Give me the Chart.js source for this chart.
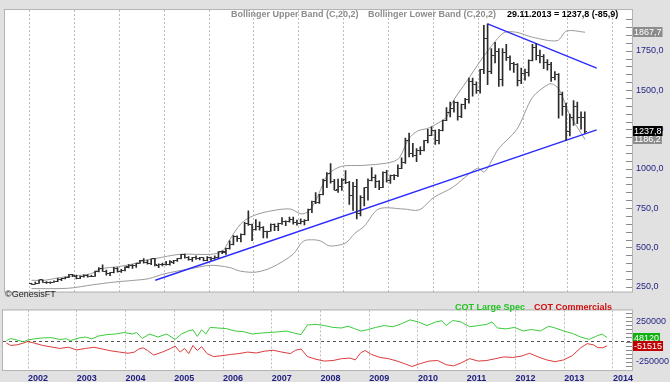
<!DOCTYPE html>
<html>
<head>
<meta charset="utf-8">
<script src="https://cdn.jsdelivr.net/npm/chart.js@4.4.0/dist/chart.umd.min.js"></script>
<style>
  html, body { margin: 0; padding: 0; background: #e1e1e1; }
  #wrap { position: relative; width: 670px; height: 382px; overflow: hidden; background: #e1e1e1; }
  #price { position: absolute; left: 0; top: 0; }
  #cot { position: absolute; left: 0; top: 301px; }
</style>
</head>
<body>
<div id="wrap">
  <canvas id="price" width="670" height="301"></canvas>
  <canvas id="cot" width="670" height="81"></canvas>
</div>
<script>
// Gold, monthly bars from Jul 2001 to Nov 2013
const firstYear = 2001, firstMonth = 7;
const opens = [
  270.5, 266, 273, 293, 279, 275.5,
  279, 282, 297, 302, 308, 326, 318, 305, 313, 323, 317, 318,
  347, 368, 348, 335, 339, 364, 346, 355, 375, 388, 384, 398,
  416, 401, 396, 427, 388, 393, 394, 391, 407, 416, 428, 452,
  438, 422, 435, 428, 435, 417, 435, 429, 433, 473, 470, 495,
  517, 569, 556, 582, 654, 643, 614, 632, 624, 599, 604, 647,
  632, 650, 665, 662, 677, 657, 650, 665, 672, 743, 789, 783,
  834, 923, 972, 916, 865, 885, 929, 913, 833, 884, 718, 815,
  882, 927, 942, 916, 883, 979, 927, 955, 955, 1001, 1040, 1182,
  1095, 1081, 1118, 1113, 1179, 1213, 1244, 1181, 1246, 1307, 1358, 1385,
  1421, 1333, 1411, 1439, 1556, 1536, 1500, 1628, 1825, 1620, 1722, 1746,
  1565, 1738, 1710, 1669, 1664, 1558, 1604, 1614, 1687, 1773, 1719, 1712,
  1675, 1662, 1578, 1596, 1472, 1393, 1234, 1323, 1396, 1327, 1323.7
];
const highs = [
  272, 278.8, 293.5, 293.5, 283, 281,
  287, 302.6, 304, 311, 328, 329, 324, 317, 326, 326.5, 322, 349,
  371, 388.5, 355, 341, 373, 371, 360, 377, 390, 390, 399, 417.5,
  429, 420, 428, 430, 395, 400, 411, 416, 417, 430, 456, 457,
  441, 437, 447, 437, 436, 442, 438, 447, 474, 478, 496, 541,
  575, 573, 586, 660, 732, 648, 677, 663, 633, 604, 650, 649,
  654, 690, 669, 693, 693, 674, 682, 677, 744, 795, 848, 838,
  935, 976, 1033, 932, 935, 937, 989, 920, 913, 933, 830, 881,
  936, 1007, 962, 925, 980, 990, 960, 963, 1025, 1070, 1195, 1226,
  1162, 1128, 1140, 1180, 1250, 1266, 1245, 1250, 1310, 1388, 1424, 1431,
  1424, 1411, 1447, 1576, 1577, 1553, 1632, 1912, 1921, 1764, 1803, 1764,
  1764, 1791, 1718, 1677, 1668, 1640, 1633, 1692, 1790, 1796, 1754, 1726,
  1694, 1677, 1617, 1605, 1487, 1417, 1348, 1434, 1424, 1361, 1361
];
const lows = [
  264.7, 265.5, 271, 277, 271.5, 271,
  277, 282, 289, 300, 308, 314, 300, 301, 310, 311, 314, 316,
  344, 347, 323, 320.5, 337, 342, 341, 350, 370, 367, 373, 398,
  399, 393, 390, 383, 371, 382, 387, 387, 397, 411, 426, 432,
  418, 411, 424, 420, 414, 414, 417, 427, 432, 460, 456, 488,
  515, 538, 535, 580, 640, 543, 610, 610, 560, 561, 603, 606,
  606, 646, 638, 661, 648, 641, 649, 643, 670, 721, 778, 780,
  834, 880, 909, 864, 850, 862, 905, 773, 735, 681, 700, 763,
  800, 923, 880, 867, 880, 915, 906, 930, 950, 1000, 1033, 1075,
  1075, 1045, 1090, 1113, 1164, 1210, 1155, 1157, 1240, 1306, 1330, 1360,
  1309, 1325, 1381, 1417, 1462, 1478, 1480, 1605, 1535, 1604, 1672, 1523,
  1527, 1688, 1627, 1613, 1527, 1540, 1563, 1589, 1685, 1692, 1672, 1636,
  1627, 1555, 1565, 1321, 1339, 1180, 1208, 1275, 1286, 1251, 1226
];
const closes = [
  265.9, 273, 293.1, 279, 275.5, 278.8,
  282.3, 296.9, 302, 308.4, 326.6, 318.5, 304.6, 312.8, 324, 316.9, 317.7, 347.2,
  367.9, 347.8, 334.9, 339.4, 364.4, 346, 354.8, 375.6, 388, 384, 398.4, 416.1,
  400.8, 395.8, 427.5, 388.5, 393.3, 394, 391.2, 407.2, 415.9, 428.2, 452.5, 438,
  422.2, 435.5, 428.2, 435.5, 417.6, 435.5, 429.1, 433, 473.3, 470.8, 495.7, 516.9,
  568.8, 556, 582, 654.5, 643, 613.5, 632.6, 623.5, 599.2, 603.8, 646.7, 632,
  650.5, 665.3, 661.8, 677, 657, 650.5, 665.5, 672, 743, 789.5, 783.5, 833.8,
  923.3, 971.5, 916.2, 864.6, 885, 928.3, 913, 833, 884.5, 718, 815.5, 882.1,
  927.3, 942, 916.5, 883.3, 978.8, 926.6, 954.9, 955.5, 1001.5, 1040, 1182, 1095.2,
  1081.5, 1118.5, 1113.5, 1179.3, 1213, 1244, 1181, 1246, 1307, 1358, 1385, 1421,
  1333, 1411, 1439, 1556, 1536, 1500, 1628, 1825, 1620, 1722, 1746, 1565,
  1738, 1710, 1669, 1664, 1558, 1604, 1614, 1687, 1773, 1719, 1712, 1675,
  1662, 1578, 1596, 1472, 1393, 1234, 1323, 1396, 1327, 1323.7, 1237.8
];

// Bollinger bands (C,20,2): [year, value]
const upperBand = [
  [2001.54, 291], [2001.84, 291], [2002.10, 305], [2002.45, 318], [2002.86, 332],
  [2003.07, 363], [2003.48, 378], [2003.80, 395], [2004.03, 415], [2004.30, 429],
  [2004.85, 456], [2005.53, 456], [2005.80, 476], [2005.94, 540], [2006.21, 651],
  [2006.49, 702], [2006.90, 733], [2007.31, 744], [2007.55, 713], [2007.72, 730],
  [2007.88, 800], [2008.02, 890], [2008.15, 965], [2008.45, 1015], [2008.90, 1021],
  [2009.30, 1030], [2009.60, 1045], [2009.75, 1073], [2009.95, 1190], [2010.15, 1240],
  [2010.39, 1258], [2010.60, 1290], [2010.80, 1330], [2010.92, 1420], [2011.27, 1567],
  [2011.54, 1682], [2011.89, 1814], [2012.09, 1867], [2012.36, 1867], [2012.71, 1836],
  [2013.26, 1814], [2013.47, 1876], [2013.88, 1867.7]
];
const lowerBand = [
  [2001.54, 238], [2002.35, 240], [2002.90, 262], [2003.40, 280], [2003.80, 290],
  [2004.15, 301], [2004.50, 332], [2005.06, 363], [2005.53, 386], [2005.94, 373],
  [2006.20, 349], [2006.55, 343], [2006.90, 373], [2007.37, 456], [2007.60, 540],
  [2007.85, 548], [2007.99, 540], [2008.19, 509], [2008.54, 528], [2008.75, 590],
  [2008.95, 632], [2009.28, 744], [2009.84, 744], [2010.18, 738], [2010.51, 818],
  [2010.92, 880], [2011.48, 1003], [2011.64, 980], [2011.95, 1126], [2012.36, 1250],
  [2012.71, 1454], [2013.06, 1536], [2013.18, 1536], [2013.32, 1495], [2013.53, 1349],
  [2013.88, 1186.2]
];

// Trend lines: [year, value]
const supportLine = [[2004.30, 291], [2014.14, 1247]];
const resistLine = [[2011.71, 1921], [2014.14, 1639]];

// COT net positions
const cotLargeDates = [
  2001.557, 2001.645, 2001.776, 2001.907, 2001.995, 2002.126, 2002.301, 2002.477, 2002.652, 2002.783,
  2002.871, 2003.046, 2003.177, 2003.309, 2003.440, 2003.615, 2003.790, 2003.966, 2004.141, 2004.229,
  2004.342, 2004.491, 2004.666, 2004.842, 2005.017, 2005.148, 2005.280, 2005.385, 2005.472, 2005.560,
  2005.647, 2005.735, 2005.893, 2006.068, 2006.243, 2006.418, 2006.594, 2006.769, 2006.944, 2007.119,
  2007.294, 2007.469, 2007.601, 2007.732, 2007.907, 2008.082, 2008.258, 2008.433, 2008.564, 2008.696,
  2008.827, 2008.958, 2009.134, 2009.309, 2009.484, 2009.659, 2009.834, 2010.009, 2010.185, 2010.360,
  2010.491, 2010.579, 2010.710, 2010.885, 2011.061, 2011.236, 2011.411, 2011.516, 2011.630, 2011.805,
  2011.981, 2012.156, 2012.331, 2012.507, 2012.682, 2012.812, 2012.988, 2013.163, 2013.338, 2013.513,
  2013.645, 2013.776, 2013.88
];
const cotLarge = [
  11000, 36800, 18400, -3700, 18400, 33100, 44100, 47800, 25700, 33100,
  11000, 44100, 55100, 33100, 66200, 84500, 91900, 110300, 91900, 110300,
  36800, 91900, 55100, 91900, 25700, 91900, 128700, 143400, 62500, 143400,
  91900, 172800, 165400, 158100, 128700, 121300, 91900, 102900, 110300, 117600,
  128700, 102900, 84500, 202200, 209500, 194800, 172800, 165400, 187500, 158100,
  128700, 143400, 172800, 194800, 180100, 216900, 264700, 238900, 194800, 238900,
  253600, 194800, 257300, 238900, 180100, 194800, 209500, 238900, 165400, 154400,
  172800, 128700, 147000, 128700, 187500, 165400, 128700, 99300, 55100, 25700,
  62500, 91900, 48120
];
const cotCommDates = [
  2001.557, 2001.645, 2001.776, 2001.907, 2001.995, 2002.126, 2002.301, 2002.477, 2002.652, 2002.827,
  2003.002, 2003.177, 2003.352, 2003.528, 2003.703, 2003.878, 2004.053, 2004.185, 2004.272, 2004.360,
  2004.447, 2004.579, 2004.754, 2004.929, 2005.017, 2005.122, 2005.209, 2005.297, 2005.385, 2005.472,
  2005.560, 2005.674, 2005.805, 2005.980, 2006.155, 2006.330, 2006.506, 2006.681, 2006.856, 2007.031,
  2007.207, 2007.382, 2007.487, 2007.601, 2007.732, 2007.907, 2008.082, 2008.258, 2008.433, 2008.608,
  2008.713, 2008.827, 2008.915, 2009.046, 2009.221, 2009.396, 2009.572, 2009.747, 2009.878, 2010.053,
  2010.228, 2010.404, 2010.579, 2010.728, 2010.885, 2011.061, 2011.236, 2011.411, 2011.586, 2011.761,
  2011.937, 2012.112, 2012.288, 2012.463, 2012.638, 2012.812, 2012.988, 2013.163, 2013.338, 2013.470,
  2013.601, 2013.688, 2013.793, 2013.88
];
const cotComm = [
  -18400, -47800, -40400, -18400, 0, -18400, -47800, -66200, -84500, -69800,
  -102900, -84500, -69800, -91900, -114000, -128700, -143400, -128700, -91900, -77200,
  -106600, -165400, -128700, -84500, -55100, -128700, -84500, -147000, -47800, -110300,
  -62500, -147000, -183800, -172800, -158100, -147000, -128700, -139700, -117600, -106600,
  -128700, -147000, -106600, -91900, -183800, -216900, -238900, -231600, -209500, -202200,
  -224200, -136000, -110300, -158100, -194800, -209500, -238900, -275700, -305100, -268300,
  -238900, -231600, -283000, -297800, -261000, -209500, -238900, -231600, -209500, -187500,
  -194800, -180100, -143400, -187500, -224200, -246300, -224200, -172800, -77200, -25700,
  -40400, -73500, -77200, -51515
];

const priceTicks = [250, 500, 750, 1000, 1250, 1500, 1750];
const cotTicks = [-250000, 250000];
const years = [2002, 2003, 2004, 2005, 2006, 2007, 2008, 2009, 2010, 2011, 2012, 2013, 2014];

const X_MIN = 2001.487, X_MAX = 2014.39;
const AXIS_W = 38;
const font = 'Liberation Sans, Arial, sans-serif';
const axisBlue = '#1e1e82';

const monthX = i => firstYear + (firstMonth - 1 + i + 0.5) / 12;
const pts = arr => arr.map(p => ({ x: p[0], y: p[1] }));

// little tick images for open (left) and close (right)
function tickImage(side) {
  const c = document.createElement('canvas');
  c.width = 5; c.height = 1;
  const g = c.getContext('2d');
  g.fillStyle = '#333';
  g.fillRect(side === 'left' ? 0 : 3, 0, 2, 1);
  return c;
}

// white plot area, inward tick marks, value boxes and header texts
const panelPlugin = {
  id: 'panel',
  beforeDraw(chart, args, opts) {
    const { ctx, chartArea: a } = chart;
    ctx.save();
    ctx.fillStyle = '#fff';
    ctx.fillRect(a.left, a.top, a.right - a.left, a.bottom - a.top);
    ctx.restore();
  },
  afterDraw(chart, args, opts) {
    const { ctx, chartArea: a } = chart;
    const y = chart.scales.y;
    ctx.save();
    ctx.strokeStyle = '#b4b4b4';
    ctx.lineWidth = 1;
    ctx.strokeRect(a.left - 0.5, a.top - 0.5, a.right - a.left + 1, a.bottom - a.top + 1);
    // tick marks pointing into the plot
    ctx.strokeStyle = '#8a8a8a';
    (opts.minorTicks || []).forEach(v => {
      const py = Math.round(y.getPixelForValue(v)) + 0.5;
      if (py < a.top || py > a.bottom) return;
      ctx.beginPath();
      ctx.moveTo(a.right - 6, py);
      ctx.lineTo(a.right, py);
      ctx.stroke();
    });
    // value boxes on the axis
    ctx.font = '9px ' + font;
    ctx.textBaseline = 'middle';
    (opts.boxes || []).forEach(b => {
      const py = Math.round(y.getPixelForValue(b.value));
      const w = ctx.measureText(b.text).width + 2;
      ctx.fillStyle = b.bg;
      ctx.fillRect(a.right + 1, py - 5, w, 10);
      ctx.fillStyle = b.fg;
      ctx.fillText(b.text, a.right + 2, py + 0.5);
    });
    // texts
    (opts.texts || []).forEach(t => {
      ctx.font = t.font;
      ctx.fillStyle = t.color;
      ctx.textBaseline = 'middle';
      ctx.fillText(t.text, t.x, t.y);
    });
    ctx.restore();
  }
};

const yearTicks = scale => { scale.ticks = years.map(v => ({ value: v })); };
const yearGrid = {
  color: '#bdbdbd',
  drawTicks: false
};

const barData = highs.map((h, i) => ({ x: monthX(i), y: [lows[i], h] }));
const openData = opens.map((o, i) => ({ x: monthX(i), y: o }));
const closeData = closes.map((c, i) => ({ x: monthX(i), y: c }));

const minor50 = [];
for (let v = 250; v <= 1950; v += 50) minor50.push(v);

new Chart(document.getElementById('price'), {
  type: 'bar',
  data: {
    datasets: [
      { type: 'line', data: pts(upperBand), borderColor: '#9a9a9a', borderWidth: 1, pointRadius: 0, tension: 0.3, order: 3 },
      { type: 'line', data: pts(lowerBand), borderColor: '#9a9a9a', borderWidth: 1, pointRadius: 0, tension: 0.3, order: 3 },
      { type: 'line', data: pts(supportLine), borderColor: '#2a2aff', borderWidth: 1.4, pointRadius: 0, order: 2 },
      { type: 'line', data: pts(resistLine), borderColor: '#2a2aff', borderWidth: 1.4, pointRadius: 0, order: 2 },
      { data: barData, backgroundColor: '#2a2a2a', barThickness: 1, order: 1 },
      { type: 'line', data: openData, showLine: false, pointStyle: tickImage('left'), pointRadius: 2, order: 0 },
      { type: 'line', data: closeData, showLine: false, pointStyle: tickImage('right'), pointRadius: 2, order: 0 }
    ]
  },
  options: {
    responsive: false,
    animation: false,
    devicePixelRatio: 1,
    layout: { padding: { left: 3, top: 10, right: 0, bottom: 1 } },
    plugins: {
      legend: { display: false },
      tooltip: { enabled: false },
      panel: {
        minorTicks: minor50,
        boxes: [
          { value: 1867.7, text: '1867,7', bg: '#8c8c8c', fg: '#fff' },
          { value: 1186.2, text: '1186,2', bg: '#8c8c8c', fg: '#fff' },
          { value: 1237.8, text: '1237,8', bg: '#000', fg: '#fff' }
        ],
        texts: [
          { text: 'Bollinger Upper Band (C,20,2)', x: 231, y: 15, color: '#8c8c8c', font: 'bold 9px ' + font },
          { text: 'Bollinger Lower Band (C,20,2)', x: 368, y: 15, color: '#8c8c8c', font: 'bold 9px ' + font },
          { text: '29.11.2013 = 1237,8 (-85,9)', x: 507, y: 15, color: '#000', font: 'bold 9px ' + font },
          { text: '\u00a9GenesisFT', x: 5, y: 295, color: '#222', font: '9px ' + font }
        ]
      }
    },
    scales: {
      x: {
        type: 'linear', min: X_MIN, max: X_MAX,
        afterBuildTicks: yearTicks,
        ticks: { display: false },
        grid: yearGrid,
        border: { display: false, dash: [2, 2] }
      },
      y: {
        position: 'right', min: 219, max: 2009,
        afterBuildTicks: s => { s.ticks = priceTicks.map(v => ({ value: v })); },
        afterFit: s => { s.width = AXIS_W; },
        ticks: {
          padding: 4,
          color: axisBlue,
          font: { family: font, size: 9 },
          callback: v => v.toFixed(1).replace('.', ',')
        },
        grid: { drawOnChartArea: false, drawTicks: false },
        border: { display: false }
      }
    }
  },
  plugins: [panelPlugin]
});

const minorCot = [];
for (let v = -300000; v <= 350000; v += 50000) minorCot.push(v);

new Chart(document.getElementById('cot'), {
  type: 'line',
  data: {
    datasets: [
      { data: cotLarge.map((v, i) => ({ x: cotLargeDates[i], y: v })), borderColor: '#3ccc3c', borderWidth: 1, pointRadius: 0 },
      { data: cotComm.map((v, i) => ({ x: cotCommDates[i], y: v })), borderColor: '#dc3c3c', borderWidth: 1, pointRadius: 0 }
    ]
  },
  options: {
    responsive: false,
    animation: false,
    devicePixelRatio: 1,
    layout: { padding: { left: 3, top: 2, right: 0, bottom: 0 } },
    plugins: {
      legend: { display: false },
      tooltip: { enabled: false },
      panel: {
        minorTicks: minorCot,
        boxes: [
          { value: 48120, text: '48120', bg: '#10b010', fg: '#fff' },
          { value: -51515, text: '-51515', bg: '#c00000', fg: '#fff' }
        ],
        texts: [
          { text: 'COT Large Spec', x: 455, y: 7, color: '#22c322', font: 'bold 9px ' + font },
          { text: 'COT Commercials', x: 534, y: 7, color: '#d01010', font: 'bold 9px ' + font }
        ]
      }
    },
    scales: {
      x: {
        type: 'linear', min: X_MIN, max: X_MAX,
        afterBuildTicks: yearTicks,
        afterFit: s => { s.height = 12; },
        ticks: {
          align: 'start', padding: 3, maxRotation: 0, autoSkip: false,
          color: axisBlue,
          font: { family: font, size: 9, weight: 'bold' },
          callback: v => String(v)
        },
        grid: yearGrid,
        border: { display: false, dash: [2, 2] }
      },
      y: {
        position: 'right', min: -347800, max: 380400,
        afterBuildTicks: s => { s.ticks = [-250000, 0, 250000].map(v => ({ value: v })); },
        afterFit: s => { s.width = AXIS_W; },
        ticks: {
          padding: 4,
          color: axisBlue,
          font: { family: font, size: 9 },
          callback: v => (cotTicks.includes(v) ? String(v) : '')
        },
        grid: {
          drawOnChartArea: true, drawTicks: false,
          color: ctx => (ctx.tick && ctx.tick.value === 0 ? '#555' : 'rgba(0,0,0,0)')
        },
        border: { display: false, dash: [3, 3] }
      }
    }
  },
  plugins: [panelPlugin]
});
</script>
</body>
</html>
